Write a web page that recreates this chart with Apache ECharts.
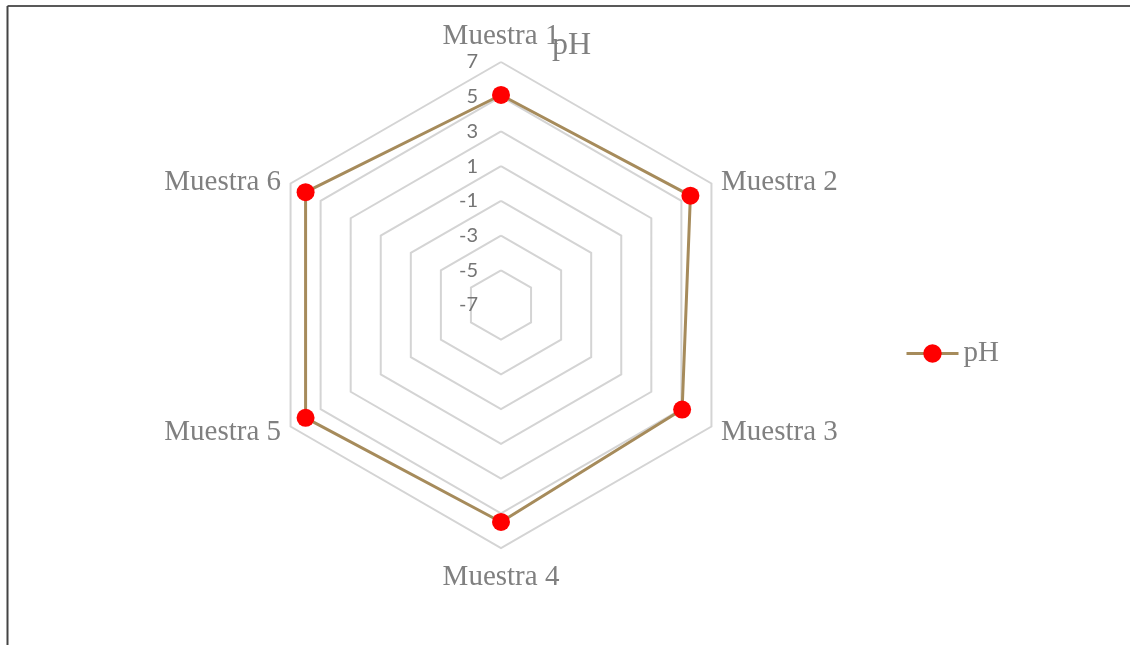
<!DOCTYPE html>
<html>
<head>
<meta charset="utf-8">
<script src="https://cdn.jsdelivr.net/npm/echarts@6/dist/echarts.min.js"></script>
<style>
html,body{margin:0;padding:0;background:#fff;}
#chart{width:1130px;height:645px;}
</style>
</head>
<body>
<div id="chart"></div>
<script>
const categories = ['Muestra 1', 'Muestra 2', 'Muestra 3', 'Muestra 4', 'Muestra 5', 'Muestra 6'];
const phValues = [5.1, 5.6, 5.05, 5.5, 6.0, 6.0];
const seriesName = 'pH';
const axisMin = -7;
const axisMax = 7;

// ECharts places radar indicators counter-clockwise; reorder to go clockwise
const order = [0].concat(categories.map((c, i) => i).slice(1).reverse());
const indicator = order.map((i, k) => {
  const ind = { name: categories[i], min: axisMin, max: axisMax };
  if (k === 0) ind.axisLabel = { show: true };
  return ind;
});
const radarValues = order.map(i => phValues[i]);
// label nudges (rich style keys) by category index
const nameStyleKey = ['n', 'up', 'n', 'bot', 'n', 'up'];

const serif = 'Liberation Serif, Times New Roman, serif';
const lineColor = '#a68b5b';
const dotColor = '#ff0000';

const chart = echarts.init(document.getElementById('chart'), null, { renderer: 'canvas' });
chart.setOption({
  animation: false,
  backgroundColor: '#ffffff',
  title: {
    text: seriesName,
    left: 552,
    top: 30,
    padding: 0,
    textStyle: { fontFamily: serif, fontSize: 32, fontWeight: 'normal', color: '#808080' }
  },
  legend: {
    data: [seriesName],
    left: 905,
    top: 339,
    padding: 0,
    itemWidth: 52,
    itemHeight: 23,
    lineStyle: { width: 3, color: lineColor },
    textStyle: { fontFamily: serif, fontSize: 29, color: '#808080' }
  },
  grid: { left: 0, top: 0, width: 1, height: 1, show: false },
  xAxis: { type: 'category', show: false, data: [] },
  yAxis: { type: 'value', show: false },
  radar: {
    center: [501, 305],
    radius: 243,
    startAngle: 90,
    shape: 'polygon',
    splitNumber: 7,
    nameGap: 11,
    axisName: {
      fontFamily: serif, fontSize: 29, color: '#808080',
      formatter: function (name) {
        const key = nameStyleKey[categories.indexOf(name)];
        return '{' + key + '|' + name + '}';
      },
      rich: {
        n: {},
        up: { padding: [8, 0, 0, 0] },
        bot: { padding: [4, 0, 0, 0] }
      }
    },
    axisLine: { show: false },
    axisTick: { show: false },
    axisLabel: { show: false, fontFamily: 'Lato, Open Sans, sans-serif', fontSize: 20, color: '#757575', margin: 23 },
    splitLine: { lineStyle: { color: '#d4d4d4', width: 2 } },
    splitArea: { show: false },
    indicator: indicator
  },
  series: [
    {
      type: 'line',
      name: seriesName,
      data: [],
      symbol: 'circle',
      lineStyle: { color: lineColor, width: 3 },
      itemStyle: { color: dotColor }
    },
    {
      type: 'radar',
      name: seriesName,
      symbol: 'circle',
      symbolSize: 18,
      lineStyle: { color: lineColor, width: 3 },
      itemStyle: { color: dotColor },
      data: [{ value: radarValues, name: seriesName }]
    }
  ],
  graphic: [
    { type: 'line', shape: { x1: 7.5, y1: 6, x2: 1130, y2: 6 }, style: { stroke: '#222', lineWidth: 1.5 } },
    { type: 'line', shape: { x1: 7.5, y1: 6, x2: 7.5, y2: 645 }, style: { stroke: '#444', lineWidth: 2 } }
  ]
});
</script>
</body>
</html>
